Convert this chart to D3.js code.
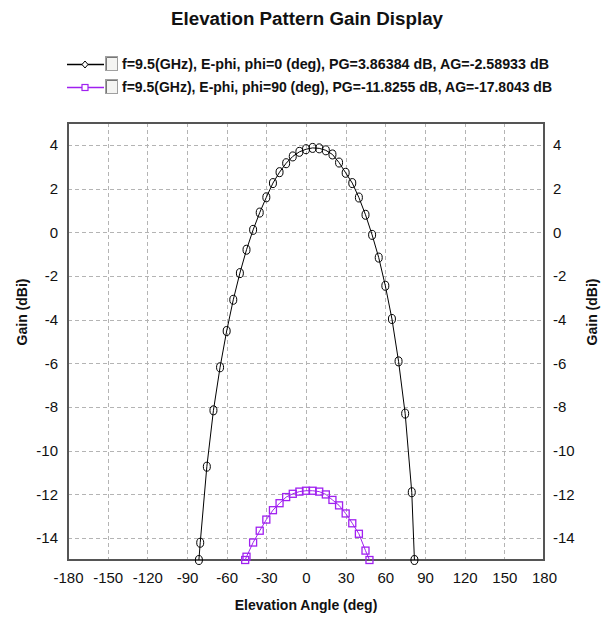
<!DOCTYPE html>
<html>
<head>
<meta charset="utf-8">
<script src="https://cdn.jsdelivr.net/npm/d3@7"></script>
<style>
  html, body { margin: 0; padding: 0; background: #ffffff; }
  svg { display: block; }
</style>
</head>
<body>
<svg id="chart" width="608" height="620"></svg>
<script>
// ---------- data ----------
const titleText = "Elevation Pattern Gain Display";
const xLabel = "Elevation Angle (deg)";
const yLabel = "Gain (dBi)";
const xTicks = [-180, -150, -120, -90, -60, -30, 0, 30, 60, 90, 120, 150, 180];
const yTicks = [-14, -12, -10, -8, -6, -4, -2, 0, 2, 4];
const seriesNames = [
  "f=9.5(GHz), E-phi, phi=0 (deg), PG=3.86384 dB, AG=-2.58933 dB",
  "f=9.5(GHz), E-phi, phi=90 (deg), PG=-11.8255 dB, AG=-17.8043 dB"
];
// phi = 0 cut
const angles0 = [-81, -80, -75, -70, -65, -60, -55, -50, -45, -40, -35, -30, -25, -20, -15, -10, -5, 0, 5, 10, 15, 20, 25, 30, 35, 40, 45, 50, 55, 60, 65, 70, 75, 80, 82];
const gain0   = [-15, -14.21, -10.73, -8.15, -6.18, -4.52, -3.09, -1.87, -0.80, 0.11, 0.90, 1.60, 2.25, 2.75, 3.16, 3.47, 3.68, 3.80, 3.86, 3.84, 3.75, 3.56, 3.19, 2.72, 2.25, 1.59, 0.80, -0.12, -1.16, -2.45, -3.97, -5.91, -8.30, -11.90, -15];
// phi = 90 cut
const angles90 = [-46, -45, -40, -35, -30, -25, -20, -15, -10, -5, 0, 5, 10, 15, 20, 25, 30, 35, 40, 45, 48];
const gain90   = [-15, -14.85, -14.20, -13.66, -13.15, -12.72, -12.40, -12.12, -11.97, -11.87, -11.83, -11.83, -11.87, -12.00, -12.25, -12.50, -12.87, -13.32, -13.80, -14.57, -15];

// ---------- layout ----------
const plot = { left: 68, right: 544, top: 123, bottom: 560 };
const colors = ["#000000", "#a020f0"];
const fontMain = "'Liberation Sans', Arial, sans-serif";

const svg = d3.select("#chart");

const x = d3.scaleLinear().domain([-180, 180]).range([plot.left, plot.right]);
const y = d3.scaleLinear().domain([-15, 5]).range([plot.bottom, plot.top]);
const fmt = d => String(d);

// title
svg.append("text")
  .attr("x", 307).attr("y", 25)
  .attr("text-anchor", "middle")
  .attr("font-family", fontMain)
  .attr("font-weight", "bold")
  .attr("font-size", 18)
  .attr("fill", "#111")
  .attr("textLength", 272).attr("lengthAdjust", "spacingAndGlyphs")
  .text(titleText);

// grid
const grid = svg.append("g").attr("stroke", "#b4b4b4").attr("stroke-width", 1).attr("stroke-dasharray", "4,3");
grid.selectAll("line.v").data(xTicks.filter(d => d > -180 && d < 180)).join("line")
  .attr("x1", d => Math.round(x(d)) + 0.5).attr("x2", d => Math.round(x(d)) + 0.5)
  .attr("y1", plot.top).attr("y2", plot.bottom);
grid.selectAll("line.h").data(yTicks).join("line")
  .attr("x1", plot.left).attr("x2", plot.right)
  .attr("y1", d => Math.round(y(d)) + 0.5).attr("y2", d => Math.round(y(d)) + 0.5);

// axes (labels only; frame drawn separately)
const axisFont = g => g.selectAll("text").attr("font-family", fontMain).attr("font-size", 15).attr("fill", "#111");
const xAxis = d3.axisBottom(x).tickValues(xTicks).tickSize(0).tickPadding(12).tickFormat(fmt);
svg.append("g").attr("transform", `translate(0,${plot.bottom})`).call(xAxis)
  .call(g => g.select(".domain").remove()).call(axisFont);
const yAxisL = d3.axisLeft(y).tickValues(yTicks).tickSize(0).tickPadding(10).tickFormat(fmt);
svg.append("g").attr("transform", `translate(${plot.left},0)`).call(yAxisL)
  .call(g => g.select(".domain").remove()).call(axisFont);
const yAxisR = d3.axisRight(y).tickValues(yTicks).tickSize(0).tickPadding(9).tickFormat(fmt);
svg.append("g").attr("transform", `translate(${plot.right},0)`).call(yAxisR)
  .call(g => g.select(".domain").remove()).call(axisFont);

// frame
svg.append("rect")
  .attr("x", plot.left).attr("y", plot.top)
  .attr("width", plot.right - plot.left).attr("height", plot.bottom - plot.top)
  .attr("fill", "none").attr("stroke", "#555").attr("stroke-width", 2);

// axis titles
svg.append("text")
  .attr("x", 306).attr("y", 610)
  .attr("text-anchor", "middle")
  .attr("font-family", fontMain).attr("font-weight", "bold").attr("font-size", 14)
  .attr("fill", "#111")
  .text(xLabel);
[22, 592].forEach(cx => {
  svg.append("text")
    .attr("transform", `translate(${cx},312) rotate(-90)`)
    .attr("text-anchor", "middle").attr("dominant-baseline", "central")
    .attr("font-family", fontMain).attr("font-weight", "bold").attr("font-size", 14)
    .attr("fill", "#111")
    .text(yLabel);
});

// series
const series = [
  { xs: angles0, ys: gain0, color: colors[0], marker: "diamond" },
  { xs: angles90, ys: gain90, color: colors[1], marker: "square" }
];
const line = d3.line().x(d => x(d[0])).y(d => y(d[1]));

function drawMarker(g, type, color, cx, cy) {
  if (type === "diamond") {
    g.append("ellipse").attr("cx", cx).attr("cy", cy).attr("rx", 3.5).attr("ry", 4.5)
      .attr("fill", "none").attr("stroke", color).attr("stroke-width", 1);
  } else {
    g.append("rect").attr("x", cx - 3.5).attr("y", cy - 3.5).attr("width", 7).attr("height", 7)
      .attr("fill", "none").attr("stroke", color).attr("stroke-width", 1.3);
  }
}

series.forEach(s => {
  const pts = s.xs.map((a, i) => [a, s.ys[i]]);
  svg.append("path").datum(pts)
    .attr("d", line).attr("fill", "none").attr("stroke", s.color).attr("stroke-width", 1);
  const mg = svg.append("g");
  pts.forEach(p => drawMarker(mg, s.marker, s.color, x(p[0]), y(p[1])));
});

// legend
const legendRows = [64, 87];
seriesNames.forEach((name, i) => {
  const ry = legendRows[i];
  const g = svg.append("g");
  g.append("line").attr("x1", 67).attr("x2", 104).attr("y1", ry + 0.5).attr("y2", ry + 0.5)
    .attr("stroke", series[i].color).attr("stroke-width", 1.3);
  if (series[i].marker === "diamond") {
    g.append("path").attr("d", `M85,${ry - 3} L88,${ry + 0.5} L85,${ry + 4} L82,${ry + 0.5} Z`)
      .attr("fill", "#fff").attr("stroke", series[i].color).attr("stroke-width", 1);
  } else {
    g.append("rect").attr("x", 82).attr("y", ry - 2.5).attr("width", 6).attr("height", 6)
      .attr("fill", "#fff").attr("stroke", series[i].color).attr("stroke-width", 1.2);
  }
  // checkbox
  g.append("rect").attr("x", 105.5).attr("y", ry - 7.5).attr("width", 12).attr("height", 14)
    .attr("fill", "#f4f4f2").attr("stroke", "#a0a0a0").attr("stroke-width", 1);
  g.append("path").attr("d", `M106.5,${ry + 6} L106.5,${ry - 6.5} L117,${ry - 6.5}`)
    .attr("fill", "none").attr("stroke", "#777").attr("stroke-width", 1);
  g.append("text").attr("x", 122).attr("y", ry + 5)
    .attr("font-family", fontMain).attr("font-weight", "bold").attr("font-size", 14)
    .attr("fill", "#111")
    .attr("textLength", i === 0 ? 427 : 430).attr("lengthAdjust", "spacingAndGlyphs")
    .text(name);
});
</script>
</body>
</html>
